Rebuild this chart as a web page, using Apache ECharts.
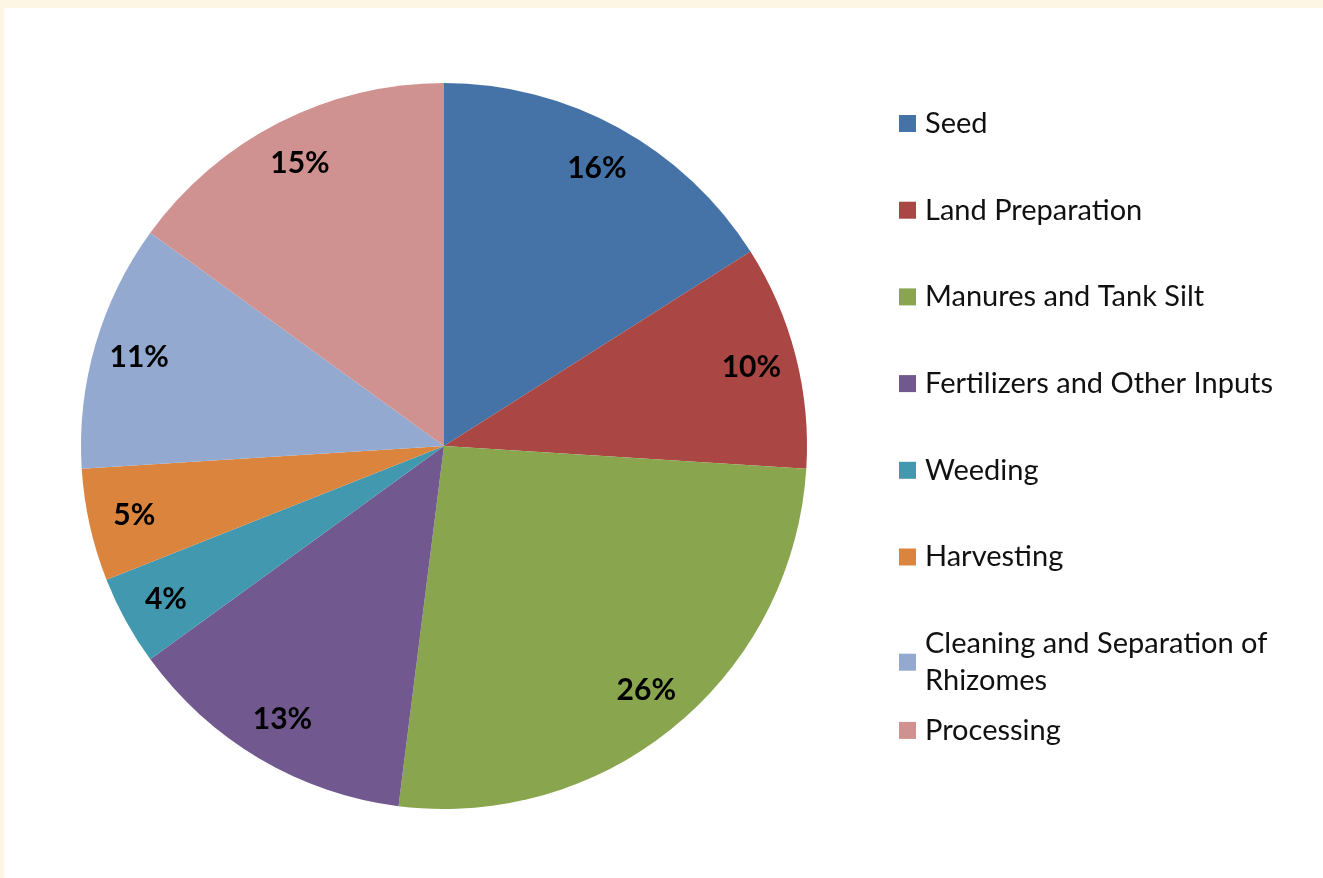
<!DOCTYPE html>
<html>
<head>
<meta charset="utf-8">
<script src="https://cdn.jsdelivr.net/npm/echarts@6/dist/echarts.min.js"></script>
<style>
  html, body { margin: 0; padding: 0; background: #fdf6e4; width: 1323px; height: 878px; overflow: hidden; }
  #chart { position: absolute; left: 4px; top: 8px; width: 1319px; height: 870px; background: #ffffff; }
</style>
</head>
<body>
<div id="chart"></div>
<script>
// Share of cost by operation (percent)
const categories = [
  'Seed',
  'Land Preparation',
  'Manures and Tank Silt',
  'Fertilizers and Other Inputs',
  'Weeding',
  'Harvesting',
  'Cleaning and Separation of Rhizomes',
  'Processing'
];
const shares = [16, 10, 26, 13, 4, 5, 11, 15];
const sliceColors = ['#4572a7', '#aa4643', '#89a54e', '#71588f', '#4198af', '#db843d', '#93a9cf', '#d09290'];

const FONT = 'Lato, "Open Sans", sans-serif';
const CX = 440, CY = 438, R = 363;
const LABEL_PUSH = 1.72;   // moves inside labels out toward the rim

const chart = echarts.init(document.getElementById('chart'), null, { renderer: 'canvas' });

// one legend block per entry so the rows keep an even pitch
const legendFirstTop = 97, legendStep = 86.7, lineH = 37;
const legends = categories.map((name, i) => {
  const wrap = name.length > 30;
  return {
    data: [name],
    left: 895,
    top: wrap ? legendFirstTop + i * legendStep - lineH / 2 : legendFirstTop + i * legendStep,
    padding: 0,
    orient: 'vertical',
    icon: 'rect',
    itemWidth: 17,
    itemHeight: 17,
    selectedMode: false,
    textStyle: {
      fontFamily: FONT,
      fontSize: 29,
      color: '#111',
      lineHeight: lineH,
      width: wrap ? 360 : undefined,
      overflow: wrap ? 'break' : undefined,
      padding: wrap ? [lineH, 0, 0, 4] : [0, 0, 0, 4]
    }
  };
});

chart.setOption({
  backgroundColor: '#ffffff',
  animation: false,
  color: sliceColors,
  legend: legends,
  series: [{
    type: 'pie',
    center: [CX, CY],
    radius: [0, R],
    startAngle: 90,
    clockwise: true,
    avoidLabelOverlap: false,
    itemStyle: { borderWidth: 0 },
    label: {
      show: true,
      position: 'inside',
      formatter: '{c}%',
      fontFamily: FONT,
      fontWeight: 'bold',
      fontSize: 30,
      color: '#000'
    },
    labelLine: { show: false },
    labelLayout: function (p) {
      const r = p.labelRect;
      const lx = r.x + r.width / 2, ly = r.y + r.height / 2;
      return { x: CX + (lx - CX) * LABEL_PUSH, y: CY + (ly - CY) * LABEL_PUSH };
    },
    emphasis: { disabled: true },
    data: categories.map((n, i) => ({ name: n, value: shares[i] }))
  }]
});
</script>
</body>
</html>
